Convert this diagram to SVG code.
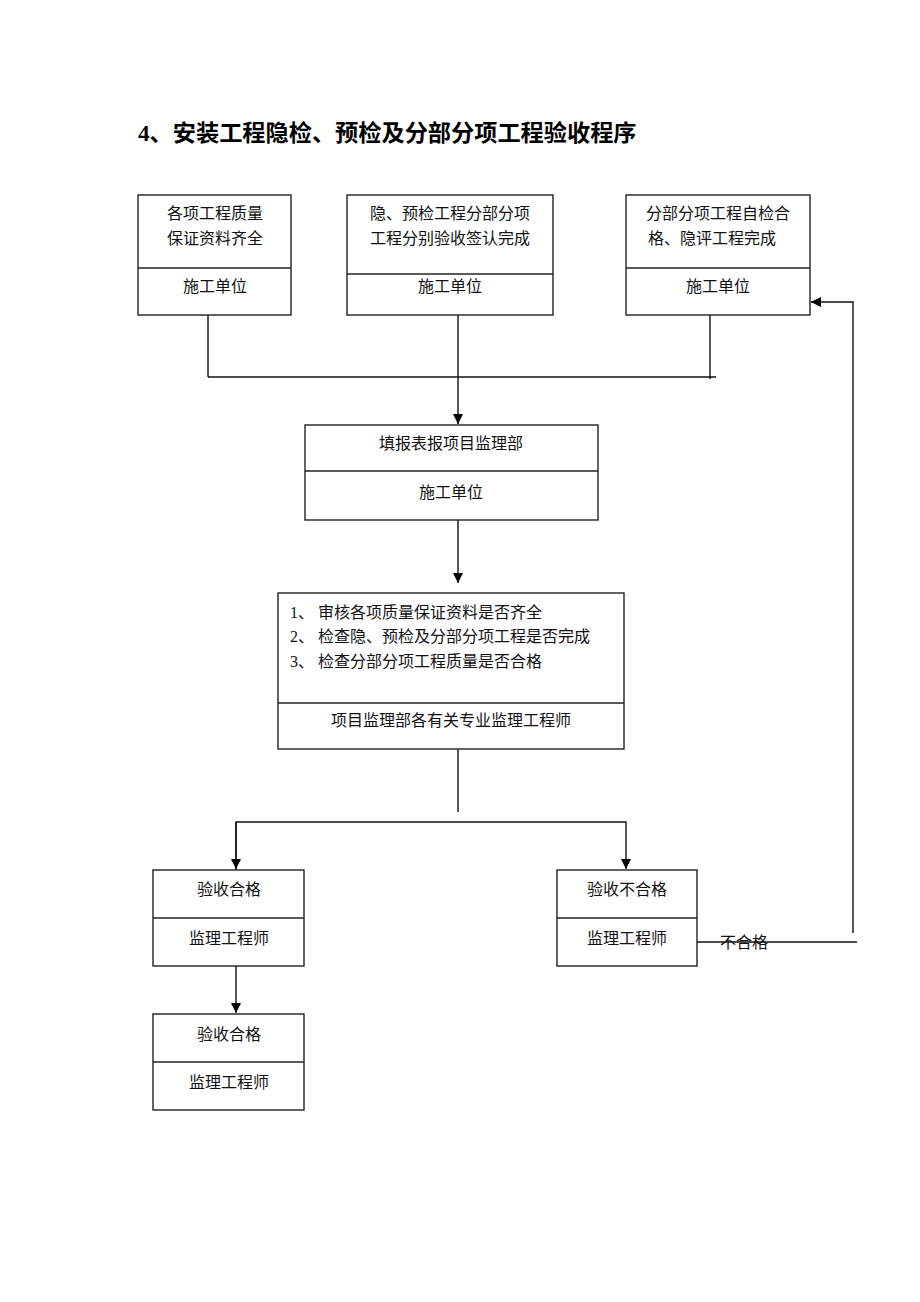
<svg xmlns="http://www.w3.org/2000/svg" width="920" height="1302" viewBox="0 0 920 1302">
<defs>
<marker id="ah" markerWidth="12" markerHeight="12" refX="10" refY="6" orient="auto" markerUnits="userSpaceOnUse">
<path d="M0,1 L10,6 L0,11 Z" fill="#000"/>
</marker>
<style>
.box{fill:#fff;stroke:#222;stroke-width:1.4}
.div{stroke:#222;stroke-width:1.4}
.t{font-family:"Liberation Serif","Noto Sans CJK SC",serif;font-size:16px;fill:#111;text-anchor:middle}
.tl{font-family:"Liberation Serif","Noto Sans CJK SC",serif;font-size:16px;fill:#111}
.ttl{font-family:"Liberation Serif","Noto Sans CJK SC",serif;font-size:23.2px;font-weight:bold;fill:#000}
.c{fill:none;stroke:#111;stroke-width:1.4}
</style>
</defs>
<rect width="920" height="1302" fill="#fff"/>
<text class="ttl" x="138" y="141">4、安装工程隐检、预检及分部分项工程验收程序</text>

<g id="connectors">
<path class="c" d="M208,315 V377"/>
<path class="c" d="M710,315 V379"/>
<path class="c" d="M208,377 H716"/>
<path class="c" d="M458,315 V424" marker-end="url(#ah)"/>
<path class="c" d="M458,520 V583" marker-end="url(#ah)"/>
<path class="c" d="M458,749 V812"/>
<path class="c" d="M236,870 V822 H626 V869" marker-end="url(#ah)"/>
<path class="c" d="M236,822 V869" marker-end="url(#ah)"/>
<path class="c" d="M236,966 V1013" marker-end="url(#ah)"/>
<path class="c" d="M697,942 H857"/>
<path class="c" d="M853,933 V302 H811" marker-end="url(#ah)"/>
<text class="tl" x="720" y="948">不合格</text>
</g>

<g id="node1">
<rect class="box" x="138" y="195" width="153" height="120"/>
<line class="div" x1="138" y1="268" x2="291" y2="268"/>
<text class="t" x="215" y="219">各项工程质量</text>
<text class="t" x="215" y="244">保证资料齐全</text>
<text class="t" x="215" y="292">施工单位</text>
</g>
<g id="node2">
<rect class="box" x="347" y="195" width="206" height="120"/>
<line class="div" x1="347" y1="274" x2="553" y2="274"/>
<text class="t" x="450" y="219">隐、预检工程分部分项</text>
<text class="t" x="450" y="244">工程分别验收签认完成</text>
<text class="t" x="450" y="292">施工单位</text>
</g>
<g id="node3">
<rect class="box" x="626" y="195" width="184" height="120"/>
<line class="div" x1="626" y1="268" x2="810" y2="268"/>
<text class="t" x="718" y="219">分部分项工程自检合</text>
<text class="t" x="712" y="244">格、隐评工程完成</text>
<text class="t" x="718" y="292">施工单位</text>
</g>
<g id="node4">
<rect class="box" x="305" y="425" width="293" height="95"/>
<line class="div" x1="305" y1="471" x2="598" y2="471"/>
<text class="t" x="451" y="449">填报表报项目监理部</text>
<text class="t" x="451" y="498">施工单位</text>
</g>
<g id="node5">
<rect class="box" x="278" y="593" width="346" height="156"/>
<line class="div" x1="278" y1="703" x2="624" y2="703"/>
<text class="tl" x="290" y="618" xml:space="preserve">1、 审核各项质量保证资料是否齐全</text>
<text class="tl" x="290" y="642" xml:space="preserve">2、 检查隐、预检及分部分项工程是否完成</text>
<text class="tl" x="290" y="667" xml:space="preserve">3、 检查分部分项工程质量是否合格</text>
<text class="t" x="451" y="726">项目监理部各有关专业监理工程师</text>
</g>
<g id="node6">
<rect class="box" x="153" y="870" width="151" height="96"/>
<line class="div" x1="153" y1="918" x2="304" y2="918"/>
<text class="t" x="229" y="895">验收合格</text>
<text class="t" x="229" y="944">监理工程师</text>
</g>
<g id="node7">
<rect class="box" x="557" y="870" width="140" height="96"/>
<line class="div" x1="557" y1="918" x2="697" y2="918"/>
<text class="t" x="627" y="895">验收不合格</text>
<text class="t" x="627" y="944">监理工程师</text>
</g>
<g id="node8">
<rect class="box" x="153" y="1014" width="151" height="96"/>
<line class="div" x1="153" y1="1062" x2="304" y2="1062"/>
<text class="t" x="229" y="1040">验收合格</text>
<text class="t" x="229" y="1088">监理工程师</text>
</g>
</svg>
